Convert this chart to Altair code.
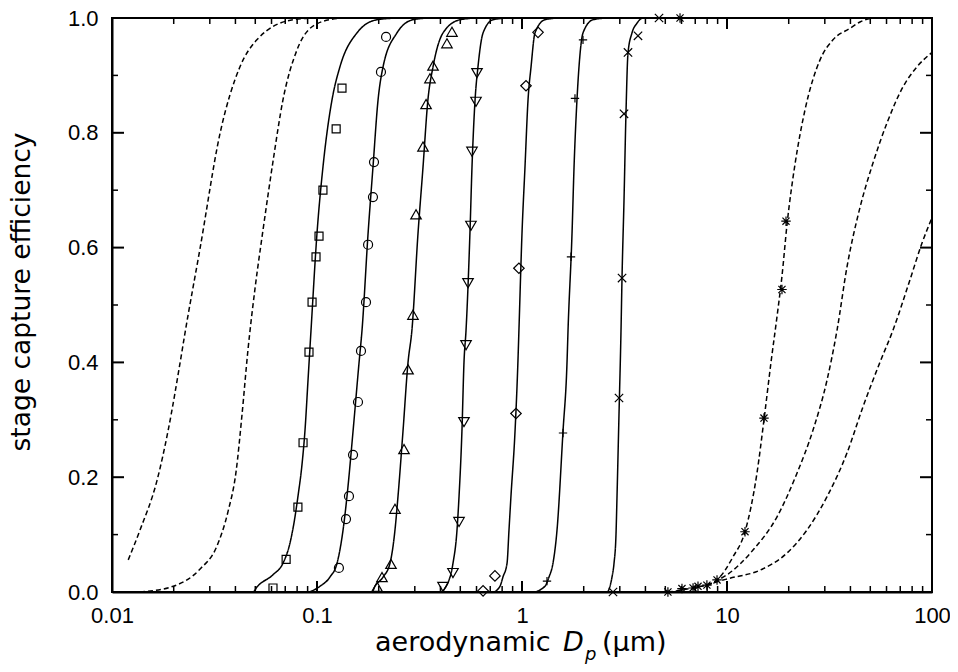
import altair as alt
import pandas as pd

# ---------------- data ----------------
# fitted curves: aerodynamic diameter (um) and capture efficiency
curve_A_x = [0.0120, 0.0137, 0.0166, 0.0188, 0.0215, 0.0227, 0.0269, 0.0337, 0.0421, 0.0509, 0.0764, 0.1]
curve_A_y = [0.056, 0.108, 0.195, 0.282, 0.40, 0.451, 0.599, 0.80, 0.915, 0.962, 0.997, 1.0]

curve_B_x = [0.0137, 0.0199, 0.0269, 0.0325, 0.0368, 0.0403, 0.0431, 0.0460, 0.0499, 0.0545, 0.0610, 0.0682, 0.0798, 0.1, 0.13]
curve_B_y = [0.0, 0.01, 0.04, 0.08, 0.14, 0.21, 0.31, 0.42, 0.53, 0.63, 0.75, 0.857, 0.944, 0.99, 1.0]

curve_C_x = [0.03, 0.0488, 0.0510, 0.0610, 0.0682, 0.0738, 0.0781, 0.0807, 0.0846, 0.0874, 0.0904, 0.0935, 0.1, 0.1069, 0.1183, 0.1294, 0.1566, 0.1964, 0.25]
curve_C_y = [0.0, 0.0, 0.009, 0.03, 0.05, 0.085, 0.131, 0.166, 0.224, 0.282, 0.369, 0.456, 0.625, 0.74, 0.857, 0.915, 0.974, 0.997, 1.0]

curve_D_x = [0.06, 0.0893, 0.1034, 0.1156, 0.1252, 0.1340, 0.1400, 0.1499, 0.1604, 0.1658, 0.1775, 0.1875, 0.1985, 0.2100, 0.2454, 0.2938, 0.35]
curve_D_y = [0.0, 0.0, 0.01, 0.026, 0.05, 0.108, 0.166, 0.28, 0.40, 0.456, 0.625, 0.74, 0.857, 0.915, 0.974, 0.997, 1.0]

curve_E_x = [0.16, 0.1853, 0.1918, 0.2100, 0.2270, 0.2401, 0.2483, 0.2627, 0.2780, 0.2904, 0.3110, 0.3289, 0.3475, 0.3681, 0.4118, 0.4987, 0.6]
curve_E_y = [0.0, 0.0, 0.01, 0.026, 0.05, 0.108, 0.166, 0.28, 0.40, 0.456, 0.625, 0.74, 0.857, 0.915, 0.974, 0.997, 1.0]

curve_F_x = [0.35, 0.3981, 0.4457, 0.4606, 0.4819, 0.4929, 0.5093, 0.5212, 0.5333, 0.5572, 0.5702, 0.5902, 0.6099, 0.6457, 0.7222, 0.85]
curve_F_y = [0.0, 0.0, 0.026, 0.05, 0.108, 0.166, 0.28, 0.40, 0.456, 0.625, 0.74, 0.857, 0.915, 0.974, 0.997, 1.0]

curve_G_x = [0.6, 0.7222, 0.7810, 0.8072, 0.8453, 0.8641, 0.8831, 0.9247, 0.9550, 0.9661, 1.0, 1.034, 1.070, 1.107, 1.157, 1.294, 1.5]
curve_G_y = [0.0, 0.0, 0.01, 0.026, 0.05, 0.108, 0.166, 0.28, 0.40, 0.456, 0.625, 0.74, 0.857, 0.915, 0.974, 0.997, 1.0]

curve_H_x = [1.0, 1.131, 1.294, 1.354, 1.416, 1.482, 1.585, 1.658, 1.677, 1.754, 1.794, 1.854, 1.897, 1.984, 2.220, 2.6]
curve_H_y = [0.0, 0.0, 0.01, 0.026, 0.05, 0.108, 0.28, 0.40, 0.456, 0.625, 0.74, 0.857, 0.915, 0.974, 0.997, 1.0]

curve_I_x = [2.3, 2.598, 2.687, 2.748, 2.811, 2.874, 2.907, 2.973, 3.041, 3.076, 3.145, 3.215, 3.289, 3.440, 3.639, 3.890, 4.5]
curve_I_y = [0.0, 0.0, 0.01, 0.026, 0.05, 0.10, 0.166, 0.31, 0.456, 0.549, 0.683, 0.834, 0.939, 0.974, 0.991, 1.0, 1.0]

curve_J_x = [3.0, 5.15, 6.03, 6.83, 7.22, 7.98, 8.94, 10.69, 12.24, 14.0, 15.15, 16.39, 17.54, 18.54, 19.62, 21.46, 24.02, 28.43, 32.89, 39.81, 44.55, 52.7, 70.0]
curve_J_y = [0.0, 0.0, 0.004, 0.007, 0.009, 0.012, 0.021, 0.061, 0.105, 0.207, 0.30, 0.40, 0.48, 0.55, 0.64, 0.745, 0.84, 0.927, 0.962, 0.982, 0.993, 1.0, 1.0]

curve_K_x = [7.98, 8.94, 10.0, 13.39, 17.54, 21.95, 26.27, 30.75, 34.41, 38.47, 44.55, 51.5, 60.3, 72.2, 84.5, 100.0]
curve_K_y = [0.012, 0.02, 0.03, 0.073, 0.131, 0.207, 0.282, 0.369, 0.456, 0.566, 0.67, 0.747, 0.817, 0.88, 0.915, 0.94]

curve_L_x = [7.98, 8.94, 10.34, 14.49, 19.63, 24.55, 30.75, 38.47, 46.0, 55.7, 64.5, 78.1, 89.4, 100.0]
curve_L_y = [0.012, 0.018, 0.024, 0.038, 0.068, 0.108, 0.166, 0.242, 0.322, 0.40, 0.456, 0.544, 0.608, 0.652]

# measured points
square_x = [0.1324, 0.1240, 0.1069, 0.1023, 0.0989, 0.0946, 0.0914, 0.0855, 0.0807, 0.0707, 0.0610]
square_y = [0.878, 0.807, 0.700, 0.620, 0.584, 0.505, 0.418, 0.26, 0.148, 0.057, 0.007]

circle_x = [0.2172, 0.2051, 0.1897, 0.1875, 0.1775, 0.1734, 0.1639, 0.1585, 0.1499, 0.1432, 0.1385, 0.1279]
circle_y = [0.967, 0.906, 0.749, 0.688, 0.605, 0.505, 0.42, 0.331, 0.239, 0.167, 0.127, 0.042]

triup_x = [0.4554, 0.4305, 0.3681, 0.3556, 0.3404, 0.3289, 0.3041, 0.2938, 0.2780, 0.2657, 0.2401, 0.2296, 0.2075, 0.1964]
triup_y = [0.976, 0.956, 0.917, 0.895, 0.85, 0.776, 0.658, 0.483, 0.388, 0.249, 0.145, 0.049, 0.026, 0.009]

tridown_x = [0.6032, 0.5964, 0.5702, 0.5636, 0.5453, 0.5333, 0.5212, 0.4929, 0.4606, 0.4118]
tridown_y = [0.904, 0.854, 0.767, 0.638, 0.538, 0.43, 0.296, 0.122, 0.033, 0.009]

diamond_x = [1.197, 1.046, 0.966, 0.9348, 0.7379, 0.6457]
diamond_y = [0.975, 0.882, 0.564, 0.311, 0.028, 0.002]

plus_x = [1.984, 1.813, 1.734, 1.585, 1.324]
plus_y = [0.962, 0.86, 0.584, 0.277, 0.019]

xmark_x = [4.66, 3.68, 3.289, 3.145, 3.076, 2.973, 2.779]
xmark_y = [1.0, 0.969, 0.94, 0.833, 0.547, 0.338, 0.0]

aster_x = [5.90, 5.15, 6.03, 6.83, 7.22, 7.98, 8.94, 12.24, 15.15, 18.54, 19.40]
aster_y = [1.0, 0.0, 0.006, 0.007, 0.01, 0.012, 0.021, 0.105, 0.303, 0.527, 0.646]

# axis ticks
x_major = [0.01, 0.1, 1, 10, 100]
x_minor = [m * d for d in [0.01, 0.1, 1, 10] for m in [2, 3, 4, 5, 6, 7, 8, 9]]
y_major = [0.0, 0.2, 0.4, 0.6, 0.8, 1.0]
y_minor = [0.1, 0.3, 0.5, 0.7, 0.9]

# ---------------- build ----------------
W, H = 820, 574
xscale = alt.Scale(type="log", domain=[0.01, 100], nice=False)
yscale = alt.Scale(domain=[0, 1], nice=False, zero=False)

LABEL_FONT = "Liberation Sans"
TITLE_FONT = "DejaVu Sans"

xaxis = alt.Axis(
    values=x_major, format="~g", ticks=False, tickSize=0, grid=False,
    labelFont=LABEL_FONT, labelFontSize=22, labelColor="black",
    labelPadding=13, labelFlush=False, labelOverlap=False,
    domainColor="black", domainWidth=2, title=None)
yaxis = alt.Axis(
    values=y_major, format=".1f", ticks=False, tickSize=0, grid=False,
    labelFont=LABEL_FONT, labelFontSize=22, labelColor="black",
    labelPadding=14, labelFlush=False, labelOverlap=False,
    domainColor="black", domainWidth=2, title=None)

def X(field="x"):
    return alt.X(f"{field}:Q", scale=xscale, axis=xaxis)

def Y(field="y"):
    return alt.Y(f"{field}:Q", scale=yscale, axis=yaxis)

curves = [
    ("A", curve_A_x, curve_A_y, "dashed"),
    ("B", curve_B_x, curve_B_y, "dashed"),
    ("C", curve_C_x, curve_C_y, "solid"),
    ("D", curve_D_x, curve_D_y, "solid"),
    ("E", curve_E_x, curve_E_y, "solid"),
    ("F", curve_F_x, curve_F_y, "solid"),
    ("G", curve_G_x, curve_G_y, "solid"),
    ("H", curve_H_x, curve_H_y, "solid"),
    ("I", curve_I_x, curve_I_y, "solid"),
    ("J", curve_J_x, curve_J_y, "dashed"),
    ("K", curve_K_x, curve_K_y, "dashed"),
    ("L", curve_L_x, curve_L_y, "dashed"),
]
rows = []
for name, xs, ys, d in curves:
    for xv, yv in zip(xs, ys):
        rows.append({"x": xv, "y": yv, "curve": name, "dash": d})
lines_df = pd.DataFrame(rows)

lines = alt.Chart(lines_df).mark_line(
    color="black", strokeWidth=1.5, interpolate="monotone"
).encode(
    x=X(), y=Y(),
    detail="curve:N",
    strokeDash=alt.StrokeDash("dash:N", scale=alt.Scale(
        domain=["solid", "dashed"], range=[[1, 0], [5, 3]]), legend=None),
)

PLUS = "M-1,0L1,0M0,-1L0,1"
XMARK = "M-1,-1L1,1M-1,1L1,-1"
ASTER = "M-1,0L1,0M0,-1L0,1M-0.75,-0.75L0.75,0.75M-0.75,0.75L0.75,-0.75"

marker_sets = [
    (square_x, square_y, "square", 64),
    (circle_x, circle_y, "circle", 81),
    (triup_x, triup_y, "triangle-up", 110),
    (tridown_x, tridown_y, "triangle-down", 110),
    (diamond_x, diamond_y, "diamond", 110),
    (plus_x, plus_y, PLUS, 70),
    (xmark_x, xmark_y, XMARK, 70),
    (aster_x, aster_y, ASTER, 90),
]
point_layers = []
for xs, ys, shape, size in marker_sets:
    df = pd.DataFrame({"x": xs, "y": ys})
    point_layers.append(
        alt.Chart(df).mark_point(
            shape=shape, size=size, filled=False, color="black",
            strokeWidth=1.2, opacity=1
        ).encode(x=X(), y=Y())
    )

# inward ticks on all four sides
tick_layers = []
for vals, L, w in [(x_major, 11, 2), (x_minor, 6, 1.5)]:
    df = pd.DataFrame({"x": vals})
    base = alt.Chart(df).mark_rule(color="black", strokeWidth=w)
    tick_layers.append(base.encode(x=X(), y=alt.value(H), y2=alt.value(H - L)))
    tick_layers.append(base.encode(x=X(), y=alt.value(0), y2=alt.value(L)))
for vals, L, w in [(y_major, 12, 2), (y_minor, 6, 1.5)]:
    df = pd.DataFrame({"y": vals})
    base = alt.Chart(df).mark_rule(color="black", strokeWidth=w)
    tick_layers.append(base.encode(y=Y(), x=alt.value(0), x2=alt.value(L)))
    tick_layers.append(base.encode(y=Y(), x=alt.value(W), x2=alt.value(W - L)))

# axis titles
def text_layer(t, x, y, size=27, style="normal", angle=0, align="left"):
    return alt.Chart(pd.DataFrame({"t": [t]})).mark_text(
        font=TITLE_FONT, fontSize=size, fontStyle=style, color="black",
        align=align, baseline="alphabetic", angle=angle
    ).encode(text="t:N", x=alt.value(x), y=alt.value(y))

title_layers = [
    text_layer("aerodynamic", 263, 633),
    text_layer("D", 451, 633, style="italic"),
    text_layer("p", 473, 642, size=18, style="italic"),
    text_layer("(µm)", 490, 633),
    text_layer("stage capture efficiency", -82, 274, size=26.5, angle=270, align="center"),
]

chart = alt.layer(
    lines, *point_layers, *tick_layers, *title_layers
).properties(
    width=W, height=H,
    autosize=alt.AutoSizeParams(type="none"),
    padding={"left": 104, "top": 10, "right": 18, "bottom": 78},
).configure_view(
    stroke="black", strokeWidth=2
)

chart.save("out.html", embed_options={"renderer": "svg", "actions": False})
